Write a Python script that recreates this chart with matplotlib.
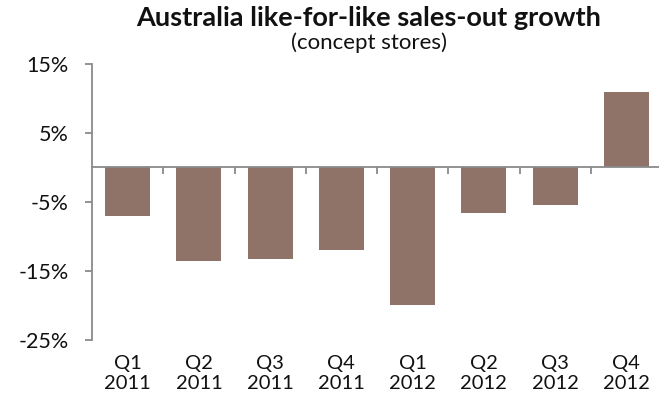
import matplotlib
matplotlib.use("Agg")
import matplotlib.pyplot as plt
import numpy as np

plt.rcParams['font.family'] = ['Lato', 'DejaVu Sans']

quarters = ["Q1", "Q2", "Q3", "Q4", "Q1", "Q2", "Q3", "Q4"]
years = ["2011", "2011", "2011", "2011", "2012", "2012", "2012", "2012"]
growth = [-7.0, -13.6, -13.3, -11.9, -19.9, -6.6, -5.5, 10.9]
y_ticks = [-25, -15, -5, 5, 15]

bar_color = "#8F7268"
axis_color = "#8A8A8A"
text_color = "#111111"

W, H = 659, 404
fig = plt.figure(figsize=(W / 100, H / 100), dpi=100)
ax = fig.add_axes([92 / W, 1 - 340 / H, 570 / W, 276 / H])

x = np.arange(len(growth))
ax.bar(x, growth, width=0.63, color=bar_color, zorder=2)

ax.set_xlim(-0.5, len(growth) - 0.5)
ax.set_ylim(-25, 15)
ax.set_yticks(y_ticks)
ax.set_yticklabels([f"{v}%" for v in y_ticks], fontsize=15.5, color=text_color)
ax.tick_params(axis='y', direction='out', length=5, width=1.3,
               color=axis_color, pad=12)

for s in ("top", "right"):
    ax.spines[s].set_visible(False)
ax.spines["left"].set_color(axis_color)
ax.spines["left"].set_linewidth(1.3)

# category axis line runs through zero, with divider ticks between quarters
ax.spines["bottom"].set_position(("data", 0))
ax.spines["bottom"].set_color(axis_color)
ax.spines["bottom"].set_linewidth(1.3)
ax.set_xticks(x[:-1] + 0.5)
ax.set_xticklabels([])
ax.tick_params(axis='x', direction='out', length=5, width=1.3, color=axis_color)

# quarter labels sit below the plot area
sec = ax.secondary_xaxis('bottom')
sec.spines["bottom"].set_visible(False)
sec.set_xticks(x)
sec.set_xticklabels([f"{q}\n{y}" for q, y in zip(quarters, years)],
                    fontsize=14.5, color=text_color, linespacing=1.2)
sec.tick_params(axis='x', length=0, pad=11)

fig.text(369 / W, 1 - 26 / H, "Australia like-for-like sales-out growth",
         ha="center", va="baseline", fontsize=19.5, fontweight="bold",
         color=text_color)
fig.text(369 / W, 1 - 49 / H, "(concept stores)", ha="center", va="baseline",
         fontsize=16, color=text_color)

fig.savefig("out.png", dpi=100)
